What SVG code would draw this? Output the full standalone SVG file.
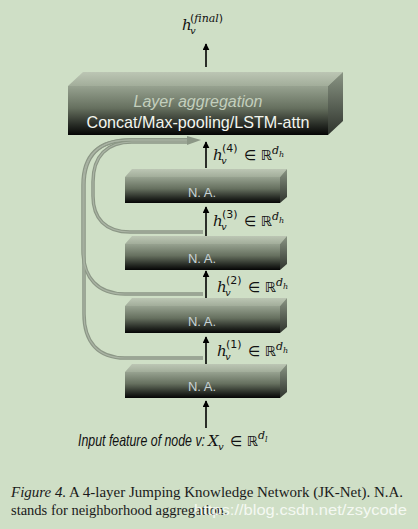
<svg xmlns="http://www.w3.org/2000/svg" width="418" height="529" viewBox="0 0 418 529">
<defs>
<linearGradient id="gFront" x1="0" y1="0" x2="0" y2="1">
<stop offset="0" stop-color="#97a290"/><stop offset="0.45" stop-color="#66705f"/><stop offset="0.8" stop-color="#262a24"/><stop offset="1" stop-color="#050505"/>
</linearGradient>
<linearGradient id="gTop" x1="0" y1="0" x2="0" y2="1">
<stop offset="0" stop-color="#bcc6b4"/><stop offset="1" stop-color="#a2ad9a"/>
</linearGradient>
<linearGradient id="gSide" x1="0" y1="0" x2="0" y2="1">
<stop offset="0" stop-color="#8a9584"/><stop offset="1" stop-color="#2e332c"/>
</linearGradient>
<marker id="ah" viewBox="0 0 10 10" refX="9" refY="5" markerWidth="7" markerHeight="7" markerUnits="userSpaceOnUse" orient="auto">
<path d="M0,0 L10,5 L0,10 z" fill="#000"/>
</marker>
<style>
.top{fill:url(#gTop)}
.front{fill:url(#gFront)}
.side{fill:url(#gSide)}
.na{font-family:"Liberation Sans",Arial,sans-serif;font-size:13px;fill:#c7d3d6;text-anchor:middle}
.arr{stroke:#000;stroke-width:1.6;fill:none;marker-end:url(#ah)}
.skip{fill:none;stroke:#8c9786;stroke-width:3.5}
.skipi{fill:none;stroke:#aab4a4;stroke-width:1.2}
.lab{fill:#111;font-family:"DejaVu Serif",serif}
.it{font-style:italic}
.rs{font-family:"DejaVu Sans",sans-serif;font-style:normal}
.cap{font-family:"Liberation Serif","Times New Roman",serif;font-size:14.5px;fill:#1a1a1a}
</style>
</defs>
<rect width="418" height="529" fill="#cfdfc6"/>

<g id="agg">
<polygon class="top" points="68,86 83,72 343,72 328,86"/>
<rect class="front" x="68" y="86" width="260" height="49"/>
<polygon class="side" points="328,86 343,72 343,121 328,135"/>
<text x="198" y="107" text-anchor="middle" font-family="Liberation Sans,Arial,sans-serif" font-style="italic" font-size="16" fill="#c3cfbd">Layer aggregation</text>
<text x="198" y="128" text-anchor="middle" font-family="Liberation Sans,Arial,sans-serif" font-size="17" fill="#f2f5ee" textLength="223" lengthAdjust="spacingAndGlyphs">Concat/Max-pooling/LSTM-attn</text>
</g>

<g id="na4">
<polygon class="top" points="125,177 132,169 287,169 280,177"/>
<rect class="front" x="125" y="177" width="155" height="26"/>
<polygon class="side" points="280,177 287,169 287,197 280,203"/>
<text class="na" x="202" y="197">N. A.</text>
</g>
<g id="na3">
<polygon class="top" points="125,244 132,236 287,236 280,244"/>
<rect class="front" x="125" y="244" width="155" height="26"/>
<polygon class="side" points="280,244 287,236 287,264 280,270"/>
<text class="na" x="202" y="263">N. A.</text>
</g>
<g id="na2">
<polygon class="top" points="125,306 132,298 287,298 280,306"/>
<rect class="front" x="125" y="306" width="155" height="27"/>
<polygon class="side" points="280,306 287,298 287,327 280,333"/>
<text class="na" x="202" y="326">N. A.</text>
</g>
<g id="na1">
<polygon class="top" points="125,372 132,364 287,364 280,372"/>
<rect class="front" x="125" y="372" width="155" height="26"/>
<polygon class="side" points="280,372 287,364 287,392 280,398"/>
<text class="na" x="202" y="391">N. A.</text>
</g>

<g id="connectors">
<path class="skip" d="M203 358 H125 C98 358 84 342 84 314 V185 C84 154 100 140 130 140 H190"/>
<path class="skip" d="M203 294 H125 C98 294 83 278 83 250 V185 C83 154 100 140 130 140 H190"/>
<path class="skip" d="M203 232 H130 C105 232 93 218 93 196 V182 C93 156 107 142 132 142 H190"/>
<path class="skipi" d="M203 358 H125 C98 358 84 342 84 314 V185 C84 154 100 140 130 140 H190"/>
<path class="skipi" d="M203 294 H125 C98 294 83 278 83 250 V185 C83 154 100 140 130 140 H190"/>
<path class="skipi" d="M203 232 H130 C105 232 93 218 93 196 V182 C93 156 107 142 132 142 H190"/>
<polygon points="187,136 201,140 187,145" fill="#8c9786"/>
<line class="arr" x1="206" y1="67" x2="206" y2="44"/>
<line class="arr" x1="206" y1="168" x2="206" y2="142"/>
<line class="arr" x1="206" y1="236" x2="206" y2="207"/>
<line class="arr" x1="206" y1="298" x2="206" y2="271"/>
<line class="arr" x1="206" y1="364" x2="206" y2="337"/>
<line class="arr" x1="206" y1="428" x2="206" y2="401"/>
</g>

<g id="lbl-final">
<text class="lab"><tspan class="it" x="182" y="30" font-size="15">h</tspan><tspan class="it" x="190" y="34" font-size="10">v</tspan><tspan class="rs" x="190" y="22" font-size="11">(</tspan><tspan class="it" font-size="11">final</tspan><tspan class="rs" font-size="11">)</tspan></text>
</g>
<g id="lbl4">
<text class="lab"><tspan class="it" x="213" y="160" font-size="15">h</tspan><tspan class="it" x="221" y="164" font-size="10">v</tspan><tspan class="rs" x="222" y="152" font-size="11">(4)</tspan><tspan class="rs" x="244" y="160" font-size="14">∈ ℝ</tspan><tspan class="it" x="272" y="154" font-size="11">d</tspan><tspan class="it" x="279" y="157" font-size="8">h</tspan></text>
</g>
<g id="lbl3">
<text class="lab"><tspan class="it" x="213" y="226" font-size="15">h</tspan><tspan class="it" x="221" y="230" font-size="10">v</tspan><tspan class="rs" x="222" y="218" font-size="11">(3)</tspan><tspan class="rs" x="244" y="226" font-size="14">∈ ℝ</tspan><tspan class="it" x="272" y="220" font-size="11">d</tspan><tspan class="it" x="279" y="223" font-size="8">h</tspan></text>
</g>
<g id="lbl2">
<text class="lab"><tspan class="it" x="217" y="292" font-size="15">h</tspan><tspan class="it" x="225" y="296" font-size="10">v</tspan><tspan class="rs" x="226" y="284" font-size="11">(2)</tspan><tspan class="rs" x="248" y="292" font-size="14">∈ ℝ</tspan><tspan class="it" x="276" y="286" font-size="11">d</tspan><tspan class="it" x="283" y="289" font-size="8">h</tspan></text>
</g>
<g id="lbl1">
<text class="lab"><tspan class="it" x="217" y="356" font-size="15">h</tspan><tspan class="it" x="225" y="360" font-size="10">v</tspan><tspan class="rs" x="226" y="348" font-size="11">(1)</tspan><tspan class="rs" x="248" y="356" font-size="14">∈ ℝ</tspan><tspan class="it" x="276" y="350" font-size="11">d</tspan><tspan class="it" x="283" y="353" font-size="8">h</tspan></text>
</g>

<g id="input">
<text x="78" y="446" font-family="Liberation Sans,Arial,sans-serif" font-style="italic" font-size="17" fill="#111" textLength="127" lengthAdjust="spacingAndGlyphs">Input feature of node v:</text>
<text class="lab"><tspan class="it" x="208" y="446" font-size="15">X</tspan><tspan class="it" x="218" y="450" font-size="10">v</tspan><tspan class="rs" x="230" y="446" font-size="14">∈ ℝ</tspan><tspan class="it" x="258" y="439" font-size="11">d</tspan><tspan class="it" x="265" y="442" font-size="8">l</tspan></text>
</g>

<g id="caption">
<text class="cap" x="11" y="497" textLength="392" lengthAdjust="spacingAndGlyphs"><tspan font-style="italic">Figure 4.</tspan> A 4-layer Jumping Knowledge Network (JK-Net). N.A.</text>
<text class="cap" x="11" y="515">stands for neighborhood aggregation.</text>
<text x="194" y="515" font-family="Liberation Sans,Arial,sans-serif" font-size="15.5" fill="#ffffff" fill-opacity="0.8" textLength="213" lengthAdjust="spacingAndGlyphs">https://blog.csdn.net/zsycode</text>
</g>
</svg>
